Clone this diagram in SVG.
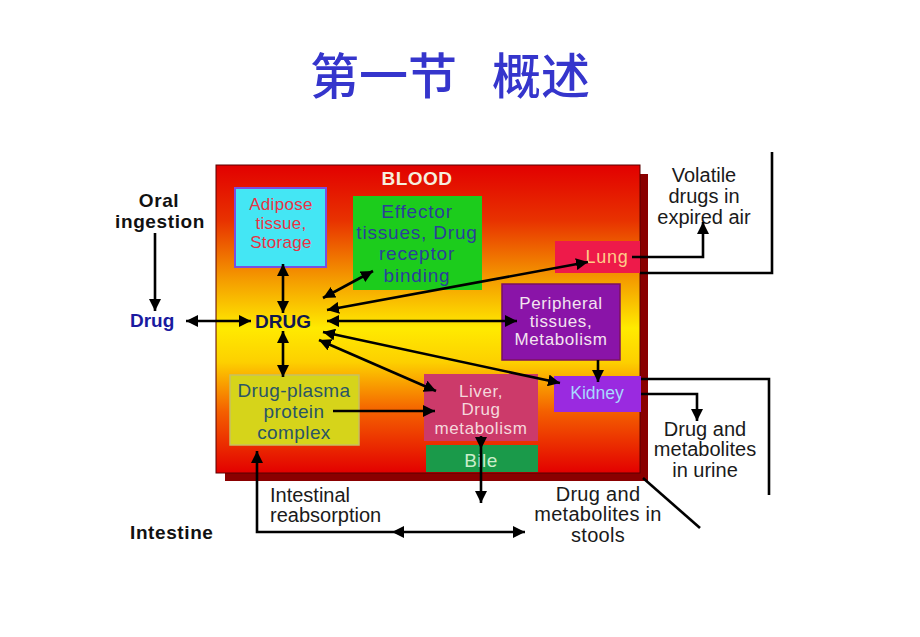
<svg xmlns="http://www.w3.org/2000/svg" width="920" height="637" viewBox="0 0 920 637">
  <defs>
    <linearGradient id="bloodGrad" x1="0" y1="0" x2="0" y2="1">
      <stop offset="0" stop-color="#e20000"/>
      <stop offset="0.18" stop-color="#e83200"/>
      <stop offset="0.38" stop-color="#f5a000"/>
      <stop offset="0.53" stop-color="#ffea00"/>
      <stop offset="0.64" stop-color="#fdd000"/>
      <stop offset="0.8" stop-color="#f46000"/>
      <stop offset="1" stop-color="#e30000"/>
    </linearGradient>
    <marker id="ah" viewBox="0 0 10 10" refX="10" refY="5" markerUnits="userSpaceOnUse" markerWidth="12" markerHeight="12" orient="auto-start-reverse">
      <path d="M0,0 L10,5 L0,10 z" fill="#000"/>
    </marker>
  </defs>
  <style>
    .t { font-family: "Liberation Sans", Arial, sans-serif; text-anchor: middle; }
    .b { font-family: "Liberation Sans", Arial, sans-serif; font-weight: bold; }
    .plain { font-family: "Liberation Sans", Arial, sans-serif; font-size: 20px; fill: #1a1a1a; }
    .ln { fill: none; stroke: #000; stroke-width: 2.6; }
    .a1 { marker-end: url(#ah); }
    .a2 { marker-start: url(#ah); marker-end: url(#ah); }
  </style>
  <rect width="920" height="637" fill="#ffffff"/>

  <text x="310" y="94" font-family="'Noto Sans CJK SC', sans-serif" font-size="49" font-weight="500" fill="#3535cc" word-spacing="24" xml:space="preserve">第一节 概述</text>

  <g id="blood">
    <rect x="225" y="174" width="423" height="307" fill="#8a0000"/>
    <rect x="216" y="165" width="424" height="308" fill="url(#bloodGrad)" stroke="#5a0000" stroke-width="1"/>
    <text x="417" y="185" class="b" font-size="19" fill="#f5eedd" text-anchor="middle" letter-spacing="0.5">BLOOD</text>
  </g>

  <g id="oral">
    <text class="b" x="159" y="207" font-size="19" fill="#111" text-anchor="middle" letter-spacing="0.6">Oral</text>
    <text class="b" x="160" y="228" font-size="19" fill="#111" text-anchor="middle" letter-spacing="0.6">ingestion</text>
  </g>
  <g id="drug-outside">
    <text class="b" x="130" y="327" font-size="19" fill="#1a1aa0">Drug</text>
  </g>
  <g id="intestine">
    <text class="b" x="130" y="539" font-size="19" fill="#111" letter-spacing="0.6">Intestine</text>
  </g>

  <g id="adipose">
    <rect x="235" y="188" width="91" height="79" fill="#44e6f4" stroke="#7a4ee0" stroke-width="2"/>
    <text class="t" font-size="17" fill="#e83344" letter-spacing="0.3"><tspan x="281" y="210">Adipose</tspan><tspan x="281" y="229">tissue,</tspan><tspan x="281" y="248">Storage</tspan></text>
  </g>

  <g id="effector">
    <rect x="353" y="196" width="129" height="94" fill="#1ccc1c"/>
    <text class="t" font-size="19" fill="#2a3f9a" letter-spacing="0.8"><tspan x="417" y="218">Effector</tspan><tspan x="417" y="239">tissues, Drug</tspan><tspan x="417" y="260">receptor</tspan><tspan x="417" y="282">binding</tspan></text>
  </g>

  <g id="lung">
    <rect x="555" y="241" width="85" height="32" fill="#ee1a4a"/>
    <text class="t" x="607" y="263" font-size="18" fill="#ffcc88" letter-spacing="0.8">Lung</text>
  </g>

  <g id="peripheral">
    <rect x="502" y="284" width="118" height="76" fill="#8a14a8" stroke="#7a1060" stroke-width="1.5"/>
    <text class="t" font-size="17" fill="#f4e4f0" letter-spacing="0.6"><tspan x="561" y="309">Peripheral</tspan><tspan x="561" y="327">tissues,</tspan><tspan x="561" y="345">Metabolism</tspan></text>
  </g>

  <g id="kidney">
    <rect x="554" y="376" width="87" height="36" fill="#9a2ae0"/>
    <text class="t" x="597" y="399" font-size="17.5" fill="#a8d8ff">Kidney</text>
  </g>

  <g id="liver">
    <rect x="424" y="374" width="114" height="67" fill="#cc3a6a"/>
    <text class="t" font-size="17" fill="#f5d8dc" letter-spacing="0.6"><tspan x="481" y="397">Liver,</tspan><tspan x="481" y="415">Drug</tspan><tspan x="481" y="434">metabolism</tspan></text>
  </g>

  <g id="bile">
    <rect x="426" y="445" width="112" height="27" fill="#1a9a4a"/>
    <text class="t" x="481" y="467" font-size="19" fill="#cceecc" letter-spacing="0.5">Bile</text>
  </g>

  <g id="plasma">
    <rect x="230" y="375" width="129" height="70" fill="#d6d41a" stroke="#c8c060" stroke-width="1.5"/>
    <text class="t" font-size="19" fill="#2a5566" letter-spacing="0.4"><tspan x="294" y="397">Drug-plasma</tspan><tspan x="294" y="418">protein</tspan><tspan x="294" y="439">complex</tspan></text>
  </g>

  <g id="DRUG">
    <text class="b" x="283" y="328" font-size="19" fill="#101850" text-anchor="middle">DRUG</text>
  </g>

  <g id="volatile">
    <text class="plain" text-anchor="middle"><tspan x="704" y="182">Volatile</tspan><tspan x="704" y="203">drugs in</tspan><tspan x="704" y="224">expired air</tspan></text>
  </g>
  <g id="urine">
    <text class="plain" text-anchor="middle"><tspan x="705" y="436">Drug and</tspan><tspan x="705" y="456">metabolites</tspan><tspan x="705" y="477">in urine</tspan></text>
  </g>
  <g id="stools">
    <text class="plain" text-anchor="middle" letter-spacing="0.3"><tspan x="598" y="501">Drug and</tspan><tspan x="598" y="521">metabolites in</tspan><tspan x="598" y="542">stools</tspan></text>
  </g>
  <g id="reabsorption">
    <text class="plain"><tspan x="270" y="502">Intestinal</tspan><tspan x="270" y="522">reabsorption</tspan></text>
  </g>

  <g id="connectors">
    <path class="ln a1" d="M155,233 V311"/>
    <path class="ln a2" d="M186,321 H251"/>
    <path class="ln a2" d="M283,264 V313"/>
    <path class="ln a2" d="M283,331 V377"/>
    <path class="ln a2" d="M323,298 L373,271"/>
    <path class="ln a2" d="M327,310 L588,262"/>
    <path class="ln a2" d="M327,321 H517"/>
    <path class="ln a2" d="M323,332 L560,383"/>
    <path class="ln a2" d="M319,340 L436,391"/>
    <path class="ln a1" d="M333,411 H435"/>
    <path class="ln a1" d="M598,360 V382"/>
    <path class="ln a1" d="M481,436 V449"/>
    <path class="ln a1" d="M481,449 V503"/>
    <path class="ln a1" d="M632,257 H703 V222"/>
    <path class="ln" d="M640,273 H772 V152"/>
    <path class="ln" d="M641,379 H769 V495"/>
    <path class="ln a1" d="M641,394 H697 V421"/>
    <path class="ln" d="M643,478 L700,528"/>
    <path class="ln a2" d="M392,532 H525"/>
    <path class="ln a1" d="M392,532 H257 V451"/>
  </g>
</svg>
